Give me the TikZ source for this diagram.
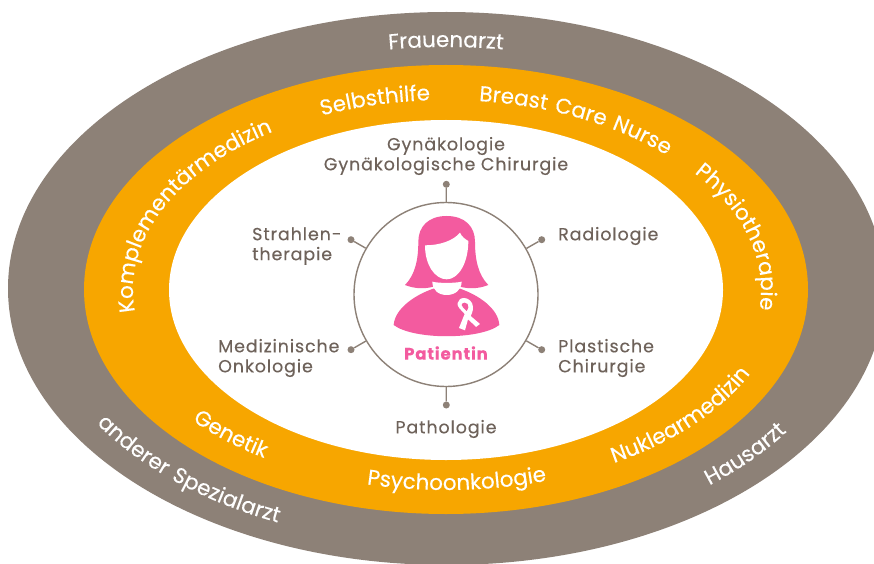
\documentclass[tikz,border=0pt]{standalone}
\usepackage{fontspec}
\setmainfont{Poppins}
\newfontfamily\labfam{Poppins}[LetterSpace=5,FakeBold=0.2]
\newfontfamily\bandfam{Poppins}[LetterSpace=9,FakeBold=0.2]
\usetikzlibrary{decorations.text}
\definecolor{bandgrey}{HTML}{8D8177}
\definecolor{bandorange}{HTML}{F7A600}
\definecolor{rosa}{HTML}{F35B9F}
\definecolor{labelgrey}{HTML}{6E625A}
\newcommand{\cwtext}[5]{% angle, half span, rx, ry, text: clockwise, reading on the inner baseline
  \path[decorate,decoration={text along path,text align=center,text={|\bandfam\fontsize{21.5}{21.5}\selectfont\color{white}|#5}}]
    (446,273) ++(#1+#2:#3 and #4) arc[start angle=#1+#2,end angle=#1-#2,x radius=#3,y radius=#4];}
\newcommand{\ccwtext}[5]{% angle, half span, rx, ry, text: counter-clockwise, reading on the outer baseline
  \path[decorate,decoration={text along path,text align=center,text={|\bandfam\fontsize{21.5}{21.5}\selectfont\color{white}|#5}}]
    (446,273) ++(#1-#2:#3 and #4) arc[start angle=#1-#2,end angle=#1+#2,x radius=#3,y radius=#4];}
\tikzset{
  x=1pt,y=1pt,
  tickdot/.style={circle,fill=bandgrey,draw=none,inner sep=0pt,minimum size=7pt},
  tickline/.style={draw=bandgrey,line width=1.4pt},
  lab/.style={text=labelgrey,font=\labfam\fontsize{17.5}{20}\selectfont,inner sep=0pt},
}
\begin{document}
\begin{tikzpicture}
\useasboundingbox (0,0) rectangle (874,563);
\clip (0,0) rectangle (874,563);
\fill[white] (0,0) rectangle (874,563);
\fill[bandgrey] (446.5,274.5) ellipse [x radius=438.5,y radius=276.5];
\fill[bandorange] (446,273.5) ellipse [x radius=362,y radius=224.5];
\fill[white] (446,273) ellipse [x radius=277,y radius=170];

\node[circle,draw=bandgrey,line width=1.4pt,fill=white,minimum size=184pt,inner sep=0pt] (c) at (446,268.5) {};
\node[tickdot] (d1) at (446.3,378.7) {};
\node[tickdot] (d2) at (541.7,323.3) {};
\node[tickdot] (d3) at (541.7,213.3) {};
\node[tickdot] (d4) at (446.3,158) {};
\node[tickdot] (d5) at (351,213.3) {};
\node[tickdot] (d6) at (351,323.3) {};
\foreach \d in {d1,d2,d3,d4,d5,d6} \draw[tickline] (\d) -- (c);

\node[lab,align=center] (t1) at (446,407) {Gynäkologie\\Gynäkologische Chirurgie};
\node[lab,align=left,anchor=west] (t2) at (252,317) {Strahlen-\\therapie};
\node[lab,anchor=west] (t3) at (558,327) {Radiologie};
\node[lab,align=left,anchor=west] (t4) at (218,205) {Medizinische\\Onkologie};
\node[lab,align=left,anchor=west] (t5) at (558,205) {Plastische\\Chirurgie};
\node[lab] (t6) at (446,134) {Pathologie};
\node[text=rosa,inner sep=0pt,font=\labfam\fontsize{16.5}{20}\selectfont\bfseries] (p) at (446,210) {Patientin};

% patient icon, in the coordinates of a 3x crop
\begin{scope}[shift={(340,393)},x=0.3333pt,y=-0.3333pt]
  \fill[rosa] (320,138) .. controls (265,138) and (235,170) .. (235,215)
     .. controls (235,270) and (225,315) .. (195,345)
     .. controls (225,357) and (255,357) .. (280,350)
     -- (360,350)
     .. controls (385,357) and (415,357) .. (445,345)
     .. controls (415,315) and (405,270) .. (405,215)
     .. controls (405,170) and (375,138) .. (320,138) -- cycle;
  \fill[white] (255,226) .. controls (300,226) and (340,212) .. (360,188)
     .. controls (365,200) and (375,207) .. (385,213)
     .. controls (385,280) and (355,328) .. (320,328)
     .. controls (285,328) and (255,285) .. (255,226) -- cycle;
  \fill[white] (240,358) rectangle (400,368);
  \fill[rosa] (161,465) .. controls (165,415) and (225,375) .. (280,356)
     -- (360,356)
     .. controls (415,375) and (475,415) .. (478,465)
     .. controls (420,510) and (220,510) .. (161,465) -- cycle;
  \fill[white] (277,335) .. controls (295,340) and (345,340) .. (365,335)
     .. controls (365,360) and (345,375) .. (320,375)
     .. controls (295,375) and (277,360) .. (277,335) -- cycle;
  % ribbon
  \fill[white] (372,384) .. controls (385,384) and (398,395) .. (399,410)
     .. controls (400,425) and (392,438) .. (392,438)
     -- (420,462) -- (408,471) -- (397,460)
     -- (384,448) -- (375,481) -- (357,474)
     -- (374,432) .. controls (362,418) and (350,410) .. (353,399)
     .. controls (355,390) and (362,384) .. (372,384) -- cycle;
  \fill[rosa] (374,398) .. controls (381,398) and (387,404) .. (385,412)
     .. controls (384,417) and (381,421) .. (380,423)
     .. controls (373,416) and (365,410) .. (365,405)
     .. controls (365,401) and (369,398) .. (374,398) -- cycle;
\end{scope}

% white band labels
\cwtext{90}{25}{400}{243}{Frauenarzt}
\cwtext{103.5}{20}{313}{190}{Selbsthilfe}
\cwtext{63}{32}{313}{190}{Breast Care Nurse}
\cwtext{14.5}{34}{315}{190}{Physiotherapie}
\cwtext{157}{42}{313}{190}{Komplementärmedizin}
\ccwtext{228}{18}{335}{200}{Genetik}
\ccwtext{272}{26}{335}{200}{Psychoonkologie}
\ccwtext{320}{30}{335}{200}{Nuklearmedizin}
\ccwtext{227}{28}{410}{255}{anderer Spezialarzt}
\ccwtext{319}{17}{410}{255}{Hausarzt}
\end{tikzpicture}
\end{document}
